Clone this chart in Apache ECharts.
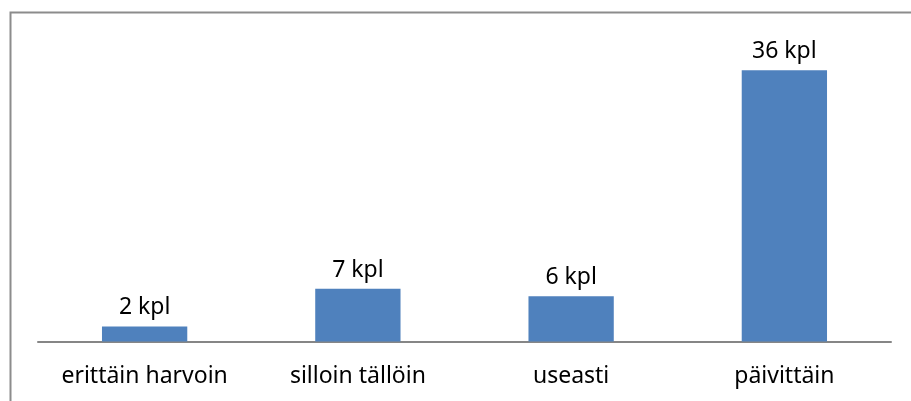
<!DOCTYPE html>
<html>
<head>
<meta charset="utf-8">
<script src="https://cdn.jsdelivr.net/npm/echarts@6/dist/echarts.min.js"></script>
<style>html,body{margin:0;padding:0;background:#fff}#c{width:911px;height:401px}</style>
</head>
<body>
<div id="c"></div>
<script>
const categories = ['erittäin harvoin', 'silloin tällöin', 'useasti', 'päivittäin'];
const values = [2, 7, 6, 36];
const unit = ' kpl';

const chart = echarts.init(document.getElementById('c'), null, {renderer: 'canvas'});
const font = 'Noto Sans';
chart.setOption({
  animation: false,
  graphic: [{
    type: 'rect', left: 8, top: 10, silent: true,
    shape: {x: 0, y: 0, width: 1000, height: 500},
    style: {fill: 'none', stroke: '#8c8c8c', lineWidth: 2}
  }],
  grid: {left: 38, right: 20, top: 40, bottom: 59.5},
  xAxis: {
    type: 'category', data: categories,
    axisLine: {lineStyle: {color: '#868686', width: 2}},
    axisTick: {show: false},
    axisLabel: {color: '#000', fontFamily: font, fontSize: 23, margin: 23, interval: 0, hideOverlap: false}
  },
  yAxis: {
    type: 'value', min: 0, max: 40, interval: 10,
    show: false
  },
  series: [{
    type: 'bar', data: values, barWidth: '40%',
    itemStyle: {color: '#4f81bd'},
    label: {show: true, position: 'top', distance: 7, color: '#000', fontFamily: font, fontSize: 23,
      formatter: p => p.value + unit}
  }]
});
</script>
</body>
</html>
